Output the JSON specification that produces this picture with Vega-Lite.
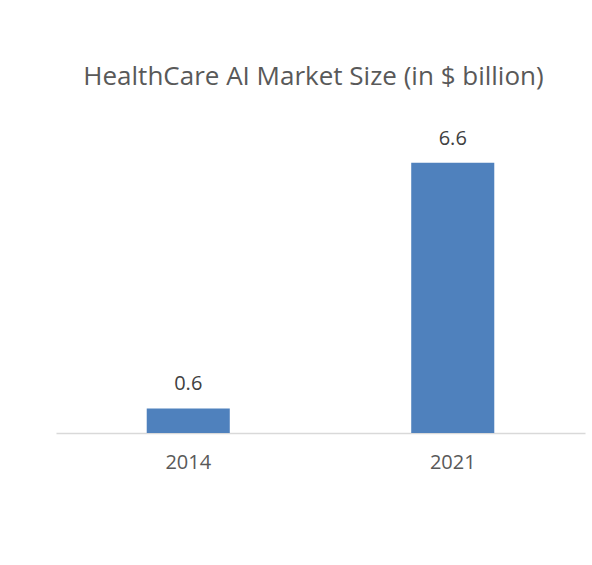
{
  "$schema": "https://vega.github.io/schema/vega-lite/v6.json",
  "width": 529,
  "height": 307,
  "autosize": "none",
  "padding": {"left": 56, "top": 126, "right": 7, "bottom": 132},
  "background": "white",
  "title": {
    "text": "HealthCare AI Market Size (in $ billion)",
    "font": "Open Sans",
    "fontSize": 26,
    "fontWeight": "normal",
    "color": "#595959",
    "anchor": "middle",
    "dx": -7,
    "offset": 36
  },
  "data": {
    "values": [
      {"year": "2014", "value": 0.6},
      {"year": "2021", "value": 6.6}
    ]
  },
  "encoding": {
    "x": {
      "field": "year",
      "type": "nominal",
      "scale": {"paddingInner": 0.686, "paddingOuter": 0.343},
      "axis": {
        "title": null,
        "labelAngle": 0,
        "ticks": false,
        "domainColor": "#D9D9D9",
        "domainWidth": 1.5,
        "labelFont": "Open Sans",
        "labelFontSize": 20,
        "labelColor": "#595959",
        "labelPadding": 19
      }
    },
    "y": {
      "field": "value",
      "type": "quantitative",
      "scale": {"domain": [0, 7.5]},
      "axis": null
    }
  },
  "layer": [
    {"mark": {"type": "bar", "color": "#4F81BD"}},
    {
      "mark": {
        "type": "text",
        "dy": -18,
        "baseline": "alphabetic",
        "font": "Open Sans",
        "fontSize": 20,
        "color": "#404040"
      },
      "encoding": {"text": {"field": "value", "type": "quantitative", "format": ".1f"}}
    }
  ],
  "config": {"view": {"stroke": null}}
}
